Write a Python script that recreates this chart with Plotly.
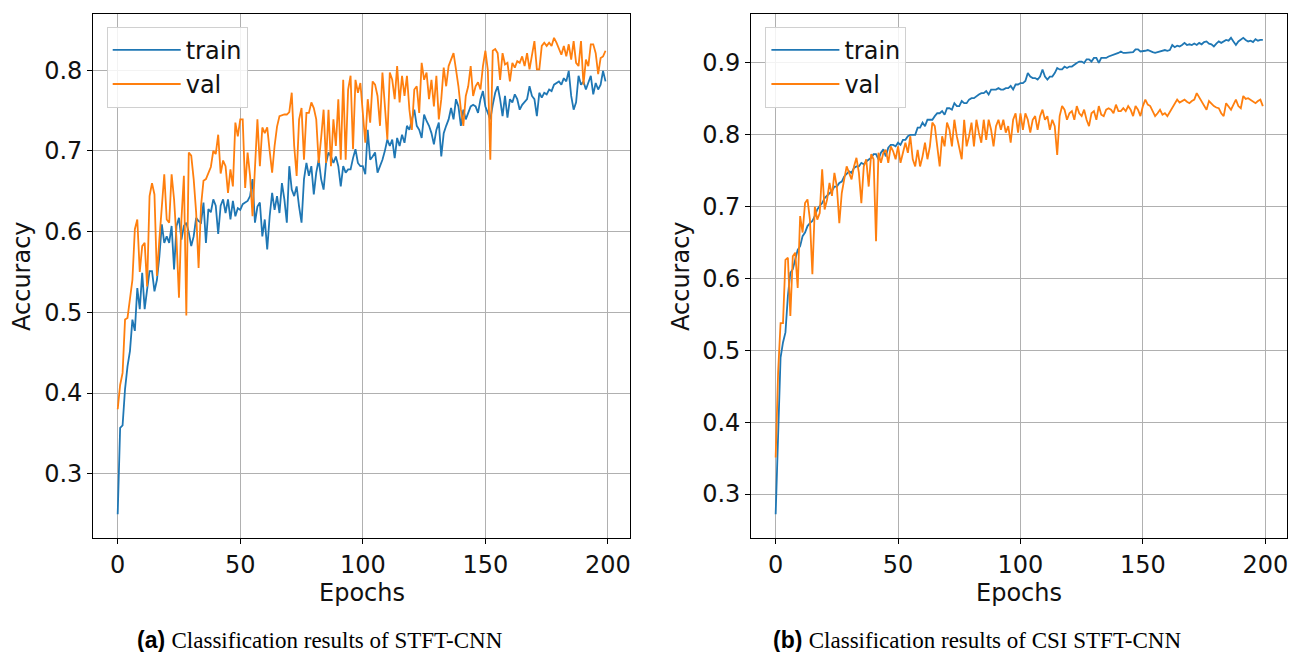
import plotly.graph_objects as go

# ---------------- data ----------------
epochs = list(range(200))

stft_train = [
    0.250, 0.357, 0.360, 0.405, 0.433, 0.452, 0.491, 0.477, 0.530, 0.504,
    0.549, 0.504, 0.528, 0.551, 0.551, 0.526, 0.540, 0.569, 0.609, 0.586,
    0.594, 0.586, 0.607, 0.553, 0.607, 0.617, 0.590, 0.607, 0.611, 0.599,
    0.582, 0.594, 0.617, 0.613, 0.611, 0.636, 0.586, 0.628, 0.624, 0.640,
    0.632, 0.597, 0.632, 0.640, 0.623, 0.640, 0.615, 0.638, 0.619, 0.629,
    0.627, 0.634, 0.636, 0.638, 0.644, 0.665, 0.611, 0.631, 0.636, 0.594,
    0.615, 0.578, 0.619, 0.648, 0.627, 0.644, 0.623, 0.660, 0.640, 0.611,
    0.681, 0.652, 0.644, 0.656, 0.631, 0.611, 0.665, 0.685, 0.669, 0.681,
    0.646, 0.673, 0.689, 0.665, 0.652, 0.685, 0.698, 0.693, 0.685, 0.693,
    0.681, 0.656, 0.681, 0.673, 0.677, 0.677, 0.691, 0.702, 0.685, 0.681,
    0.681, 0.671, 0.726, 0.689, 0.693, 0.698, 0.673, 0.681, 0.689, 0.700,
    0.714, 0.706, 0.714, 0.691, 0.716, 0.706, 0.720, 0.710, 0.731, 0.726,
    0.737, 0.751, 0.731, 0.726, 0.716, 0.745, 0.737, 0.731, 0.722, 0.708,
    0.726, 0.735, 0.693, 0.722, 0.731, 0.739, 0.753, 0.739, 0.764, 0.755,
    0.731, 0.751, 0.739, 0.747, 0.755, 0.757, 0.755, 0.747, 0.764, 0.774,
    0.755, 0.747, 0.739, 0.757, 0.772, 0.780, 0.764, 0.743, 0.768, 0.741,
    0.764, 0.760, 0.770, 0.764, 0.751, 0.757, 0.760, 0.764, 0.780, 0.768,
    0.764, 0.743, 0.772, 0.766, 0.772, 0.770, 0.776, 0.774, 0.782, 0.784,
    0.786, 0.782, 0.790, 0.786, 0.799, 0.768, 0.751, 0.760, 0.793, 0.782,
    0.786, 0.776, 0.786, 0.793, 0.770, 0.784, 0.776, 0.782, 0.799, 0.786,
]

stft_val = [
    0.380, 0.410, 0.425, 0.491, 0.493, 0.520, 0.540, 0.603, 0.615, 0.550,
    0.582, 0.586, 0.532, 0.644, 0.660, 0.646, 0.545, 0.590, 0.632, 0.671,
    0.615, 0.611, 0.671, 0.640, 0.590, 0.518, 0.615, 0.669, 0.496, 0.698,
    0.694, 0.665, 0.624, 0.555, 0.632, 0.663, 0.665, 0.672, 0.680, 0.700,
    0.696, 0.720, 0.672, 0.688, 0.681, 0.648, 0.677, 0.656, 0.735, 0.718,
    0.739, 0.739, 0.654, 0.698, 0.669, 0.619, 0.677, 0.739, 0.681, 0.729,
    0.722, 0.729, 0.700, 0.673, 0.706, 0.730, 0.743, 0.744, 0.745, 0.745,
    0.748, 0.772, 0.706, 0.669, 0.739, 0.753, 0.689, 0.747, 0.747, 0.760,
    0.753, 0.739, 0.685, 0.716, 0.751, 0.685, 0.751, 0.681, 0.739, 0.706,
    0.764, 0.689, 0.788, 0.689, 0.776, 0.793, 0.702, 0.788, 0.772, 0.784,
    0.747, 0.710, 0.764, 0.735, 0.786, 0.782, 0.768, 0.731, 0.797, 0.755,
    0.714, 0.797, 0.788, 0.764, 0.805, 0.760, 0.793, 0.768, 0.793, 0.751,
    0.726, 0.776, 0.780, 0.747, 0.809, 0.788, 0.797, 0.764, 0.788, 0.755,
    0.793, 0.739, 0.764, 0.803, 0.780, 0.805, 0.813, 0.821, 0.801, 0.780,
    0.751, 0.731, 0.768, 0.780, 0.805, 0.768, 0.780, 0.785, 0.776, 0.805,
    0.824, 0.800, 0.689, 0.824, 0.826, 0.821, 0.788, 0.821, 0.807, 0.809,
    0.786, 0.809, 0.803, 0.811, 0.809, 0.817, 0.805, 0.821, 0.801, 0.821,
    0.836, 0.801, 0.801, 0.830, 0.834, 0.830, 0.834, 0.830, 0.840, 0.834,
    0.826, 0.819, 0.830, 0.817, 0.832, 0.813, 0.836, 0.809, 0.805, 0.836,
    0.782, 0.813, 0.805, 0.832, 0.832, 0.821, 0.795, 0.815, 0.817, 0.824,
]

csi_train = [
    0.272, 0.400, 0.490, 0.511, 0.525, 0.576, 0.608, 0.613, 0.627, 0.640,
    0.645, 0.659, 0.664, 0.673, 0.677, 0.680, 0.687, 0.696, 0.701, 0.705,
    0.712, 0.715, 0.719, 0.722, 0.728, 0.728, 0.733, 0.735, 0.742, 0.745,
    0.749, 0.747, 0.754, 0.756, 0.756, 0.761, 0.759, 0.763, 0.766, 0.768,
    0.773, 0.773, 0.766, 0.775, 0.780, 0.770, 0.782, 0.786, 0.786, 0.784,
    0.789, 0.786, 0.793, 0.793, 0.798, 0.800, 0.800, 0.800, 0.810, 0.810,
    0.817, 0.812, 0.821, 0.821, 0.821, 0.826, 0.830, 0.830, 0.833, 0.828,
    0.837, 0.837, 0.835, 0.844, 0.840, 0.840, 0.847, 0.844, 0.844, 0.849,
    0.851, 0.851, 0.854, 0.856, 0.858, 0.858, 0.861, 0.856, 0.863, 0.863,
    0.863, 0.865, 0.863, 0.863, 0.865, 0.865, 0.868, 0.863, 0.870, 0.870,
    0.872, 0.872, 0.875, 0.886, 0.881, 0.879, 0.879, 0.877, 0.881, 0.891,
    0.881, 0.877, 0.881, 0.881, 0.886, 0.893, 0.891, 0.891, 0.895, 0.893,
    0.895, 0.895, 0.898, 0.900, 0.902, 0.902, 0.900, 0.905, 0.905, 0.902,
    0.907, 0.907, 0.900, 0.907, 0.907, 0.907, 0.909, 0.910, 0.912, 0.912,
    0.914, 0.916, 0.914, 0.914, 0.914, 0.915, 0.915, 0.919, 0.919, 0.916,
    0.916, 0.917, 0.918, 0.916, 0.915, 0.914, 0.915, 0.916, 0.916, 0.918,
    0.917, 0.918, 0.925, 0.922, 0.924, 0.923, 0.925, 0.928, 0.925, 0.926,
    0.925, 0.927, 0.925, 0.928, 0.926, 0.929, 0.930, 0.927, 0.926, 0.923,
    0.927, 0.930, 0.928, 0.930, 0.932, 0.931, 0.935, 0.930, 0.925, 0.930,
    0.932, 0.935, 0.932, 0.930, 0.931, 0.929, 0.933, 0.931, 0.932, 0.932,
]

csi_val = [
    0.351, 0.469, 0.538, 0.538, 0.626, 0.629, 0.548, 0.631, 0.636, 0.587,
    0.687, 0.664, 0.705, 0.710, 0.682, 0.606, 0.700, 0.682, 0.691, 0.752,
    0.696, 0.710, 0.733, 0.715, 0.747, 0.728, 0.677, 0.719, 0.738, 0.756,
    0.747, 0.738, 0.756, 0.768, 0.747, 0.705, 0.756, 0.766, 0.728, 0.773,
    0.766, 0.652, 0.775, 0.761, 0.775, 0.779, 0.761, 0.784, 0.777, 0.766,
    0.784, 0.761, 0.775, 0.789, 0.775, 0.798, 0.766, 0.756, 0.779, 0.756,
    0.770, 0.789, 0.766, 0.784, 0.817, 0.812, 0.784, 0.756, 0.798, 0.784,
    0.817, 0.807, 0.784, 0.821, 0.798, 0.784, 0.766, 0.821, 0.784, 0.798,
    0.817, 0.784, 0.821, 0.803, 0.789, 0.821, 0.793, 0.821, 0.807, 0.784,
    0.812, 0.821, 0.807, 0.821, 0.803, 0.812, 0.789, 0.821, 0.830, 0.803,
    0.830, 0.807, 0.830, 0.821, 0.803, 0.821, 0.826, 0.807, 0.826, 0.835,
    0.821, 0.826, 0.807, 0.821, 0.812, 0.772, 0.826, 0.840, 0.835, 0.821,
    0.830, 0.833, 0.821, 0.840, 0.830, 0.826, 0.835, 0.821, 0.812, 0.830,
    0.833, 0.821, 0.840, 0.828, 0.826, 0.835, 0.837, 0.835, 0.830, 0.842,
    0.833, 0.833, 0.837, 0.833, 0.840, 0.835, 0.826, 0.840, 0.835, 0.826,
    0.840, 0.849, 0.842, 0.840, 0.833, 0.826, 0.830, 0.835, 0.828, 0.830,
    0.826, 0.832, 0.837, 0.843, 0.849, 0.845, 0.847, 0.849, 0.846, 0.844,
    0.847, 0.849, 0.858, 0.852, 0.847, 0.840, 0.835, 0.847, 0.843, 0.840,
    0.838, 0.837, 0.830, 0.826, 0.844, 0.840, 0.835, 0.842, 0.849, 0.840,
    0.837, 0.854, 0.850, 0.851, 0.849, 0.846, 0.844, 0.847, 0.849, 0.840,
]

x_ticks = [0, 50, 100, 150, 200]
left_yticks = [0.3, 0.4, 0.5, 0.6, 0.7, 0.8]
right_yticks = [0.3, 0.4, 0.5, 0.6, 0.7, 0.8, 0.9]
series_names = ["train", "val"]
x_label = "Epochs"
y_label = "Accuracy"
captions = ["Classification results of STFT-CNN",
            "Classification results of CSI STFT-CNN"]
caption_tags = ["(a)", "(b)"]

# ---------------- styling / layout ----------------
W, H = 1303, 652
BLUE, ORANGE = "#1f77b4", "#ff7f0e"
FONT = "DejaVu Sans"
FS = 24


def fx(px):
    return px / W


def fy(py):
    return 1 - py / H


def mpl_range(vals, frac=0.05):
    lo, hi = min(vals), max(vals)
    pad = (hi - lo) * frac
    return [lo - pad, hi + pad]


xr = mpl_range(epochs)

fig = go.Figure()
fig.add_trace(go.Scatter(x=epochs, y=stft_train, name=series_names[0], mode="lines",
                         line=dict(color=BLUE, width=1.8), xaxis="x", yaxis="y",
                         legend="legend"))
fig.add_trace(go.Scatter(x=epochs, y=stft_val, name=series_names[1], mode="lines",
                         line=dict(color=ORANGE, width=1.8), xaxis="x", yaxis="y",
                         legend="legend"))
fig.add_trace(go.Scatter(x=epochs, y=csi_train, name=series_names[0], mode="lines",
                         line=dict(color=BLUE, width=1.8), xaxis="x2", yaxis="y2",
                         legend="legend2"))
fig.add_trace(go.Scatter(x=epochs, y=csi_val, name=series_names[1], mode="lines",
                         line=dict(color=ORANGE, width=1.8), xaxis="x2", yaxis="y2",
                         legend="legend2"))

axis_common = dict(
    showline=True, mirror=True, linecolor="#000000", linewidth=1.2,
    showgrid=True, gridcolor="#b0b0b0", gridwidth=1,
    zeroline=False, ticks="outside", ticklen=5, tickwidth=1, tickcolor="#000000",
    tickfont=dict(family=FONT, size=FS, color="#111111"),
)

L_X0, L_X1 = 93.3, 629.9
R_X0, R_X1 = 751.3, 1287.2
Y_TOP, Y_BOT = 14, 538
ydom = [fy(Y_BOT), fy(Y_TOP)]

legend_common = dict(
    xanchor="left", yanchor="top", itemwidth=68,
    bgcolor="rgba(255,255,255,0.85)", bordercolor="#d0d0d0", borderwidth=1,
    font=dict(family=FONT, size=FS, color="#111111"),
)

fig.update_layout(
    width=W, height=H,
    margin=dict(l=0, r=0, t=0, b=0),
    paper_bgcolor="white", plot_bgcolor="white",
    xaxis=dict(domain=[fx(L_X0), fx(L_X1)], anchor="y", range=xr,
               tickvals=x_ticks, **axis_common),
    yaxis=dict(domain=ydom, anchor="x", range=mpl_range(stft_train + stft_val),
               tickvals=left_yticks, tickformat=".1f", **axis_common),
    xaxis2=dict(domain=[fx(R_X0), fx(R_X1)], anchor="y2", range=xr,
                tickvals=x_ticks, **axis_common),
    yaxis2=dict(domain=ydom, anchor="x2", range=mpl_range(csi_train + csi_val),
                tickvals=right_yticks, tickformat=".1f", **axis_common),
    legend=dict(x=fx(106.7), y=fy(26.7), **legend_common),
    legend2=dict(x=fx(765.4), y=fy(26.7), **legend_common),
)

annots = []
for cx, ax_x in [((L_X0 + L_X1) / 2, 22), ((R_X0 + R_X1) / 2, 681)]:
    annots.append(dict(x=fx(cx), y=fy(593), xref="paper", yref="paper",
                       text=x_label, showarrow=False, xanchor="center", yanchor="middle",
                       font=dict(family=FONT, size=FS, color="#111111")))
    annots.append(dict(x=fx(ax_x), y=fy((Y_TOP + Y_BOT) / 2), xref="paper", yref="paper",
                       text=y_label, showarrow=False, textangle=-90,
                       xanchor="center", yanchor="middle",
                       font=dict(family=FONT, size=FS, color="#111111")))

for cx, tag, cap in [(320, caption_tags[0], captions[0]), (977, caption_tags[1], captions[1])]:
    annots.append(dict(
        x=fx(cx), y=fy(640), xref="paper", yref="paper", showarrow=False,
        xanchor="center", yanchor="middle",
        text=f"<b>{tag}</b> <span style='font-family:\"Liberation Serif\"'>{cap}</span>",
        font=dict(family="Liberation Sans", size=23, color="#000000")))

fig.update_layout(annotations=annots)

fig.write_html("out.html")
